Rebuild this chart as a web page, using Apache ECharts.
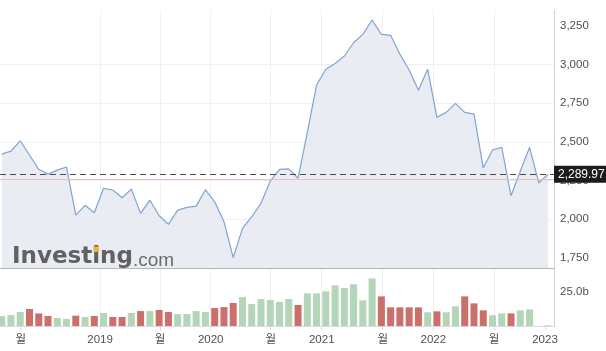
<!DOCTYPE html>
<html>
<head>
<meta charset="utf-8">
<script src="https://cdn.jsdelivr.net/npm/echarts@6/dist/echarts.min.js"></script>
<style>
html, body { margin: 0; padding: 0; background: #fff; }
#chart { width: 606px; height: 351px; }
</style>
</head>
<body>
<div id="chart"></div>
<script>
// monthly closes, one point per month (first point ~ Feb 2018)
const closes = [
  2421, 2440, 2507, 2415, 2322, 2291, 2317, 2337, 2026, 2089,
  2041, 2199, 2188, 2138, 2194, 2037, 2123, 2021, 1966, 2058,
  2076, 2084, 2190, 2112, 1983, 1750, 1940, 2015, 2102, 2246,
  2322, 2325, 2264, 2560, 2868, 2970, 3008, 3056, 3142, 3196,
  3289, 3196, 3190, 3067, 2965, 2835, 2970, 2659, 2691, 2749,
  2691, 2680, 2332, 2447, 2464, 2151, 2310, 2464, 2235, 2289.97
]
// monthly volume, billions
const volumes = [
  7.3, 8.0, 10.2, 12.4, 9.2, 7.3, 5.8, 5.1, 7.5, 6.6,
  7.3, 9.5, 6.6, 6.6, 9.5, 10.9, 10.9, 11.7, 10.2, 8.7,
  8.7, 10.9, 10.2, 13.1, 13.8, 16.8, 21.1, 16.0, 19.7, 19.0,
  17.5, 19.7, 15.3, 23.8, 23.8, 25.3, 29.6, 27.7, 30.4, 18.7,
  34.7, 21.6, 13.6, 13.6, 13.6, 13.6, 10.0, 10.7, 10.0, 14.3,
  21.6, 16.5, 11.4, 7.8, 9.2, 9.2, 11.4, 12.1, 0, 0.5
]
// x tick positions in month-index units, and their labels
const xTickPos = [2.05, 10.62, 17.1, 22.57, 29.05, 34.56, 41.14, 46.61, 53.17, 58.67]
const xTickLabels = ['월', '2019', '월', '2020', '월', '2021', '월', '2022', '월', '2023']
const priceTicks = [1750, 2000, 2250, 2500, 2750, 3000, 3250]
const volumeTicks = [25]
const lastPrice = 2289.97
const prevClose = 2258

const FONT = "'Liberation Sans', 'Noto Sans CJK KR', sans-serif"
const UP = '#b4d5b8'
const DOWN = '#cb6f6b'
const GRID_COLOR = '#eef0f3'
const X_MIN = -0.184
const X_MAX = 59.64

const chart = echarts.init(document.getElementById('chart'))

const xLabel = (v) => {
  const k = xTickPos.findIndex(p => Math.abs(p - v) < 1e-6)
  return k >= 0 ? xTickLabels[k] : ''
}

const splitLine = { show: true, showMinLine: false, showMaxLine: false, lineStyle: { color: GRID_COLOR } }

const option = {
  animation: false,
  grid: [
    { left: 0, right: 52, top: 10, height: 258 },
    { left: 0, right: 52, top: 268, height: 58 },
  ],
  xAxis: [
    {
      type: 'value', gridIndex: 0, min: X_MIN, max: X_MAX,
      axisLine: { show: true, onZero: false, lineStyle: { color: '#b4b4b4' } },
      axisTick: { show: false, customValues: xTickPos },
      axisLabel: { show: false },
      splitLine,
    },
    {
      type: 'value', gridIndex: 1, min: X_MIN, max: X_MAX,
      axisLine: { show: true, onZero: false, lineStyle: { color: '#d8dbe0' } },
      axisTick: { show: true, length: 4, customValues: xTickPos, lineStyle: { color: '#d8dbe0' } },
      axisLabel: {
        customValues: xTickPos, formatter: xLabel, margin: 8,
        color: '#505050', fontSize: 11.5, fontFamily: FONT,
      },
      splitLine,
    },
  ],
  yAxis: [
    {
      type: 'value', gridIndex: 0, position: 'right', min: 1683, max: 3354,
      axisLine: { show: true, onZero: false, lineStyle: { color: '#cfd3da' } },
      axisTick: { show: false, customValues: priceTicks },
      axisLabel: {
        customValues: priceTicks, margin: 6,
        formatter: v => v.toLocaleString('en-US'),
        color: '#505050', fontSize: 11.5, fontFamily: FONT,
      },
      splitLine,
    },
    {
      type: 'value', gridIndex: 1, position: 'right', min: 0, max: 42.3,
      axisLine: { show: true, onZero: false, lineStyle: { color: '#cfd3da' } },
      axisTick: { show: false, customValues: volumeTicks },
      axisLabel: {
        customValues: volumeTicks, margin: 6,
        formatter: v => v.toFixed(1) + 'b',
        color: '#505050', fontSize: 11.5, fontFamily: FONT,
      },
      splitLine: { show: false },
    },
  ],
  graphic: [
    {
      type: 'text', z: 100, left: 12, top: 246,
      style: { text: 'Investing', font: "bold 23px 'DejaVu Sans'", fill: 'rgba(85,85,85,0.92)' },
    },
    {
      type: 'rect', z: 101, left: 93.5, top: 246.5,
      shape: { width: 5.5, height: 5.5 },
      style: { fill: '#f0b23e' },
    },
    {
      type: 'text', z: 100, left: 133, top: 251,
      style: { text: '.com', font: "19px 'Liberation Sans'", fill: 'rgba(95,95,95,0.92)' },
    },
  ],
  series: [
    {
      type: 'line', xAxisIndex: 0, yAxisIndex: 0,
      data: closes.map((v, i) => [i, v]),
      symbol: 'none',
      lineStyle: { color: '#7fa4d4', width: 1.2 },
      areaStyle: { color: '#e9edf3', origin: 'start', opacity: 1 },
      markLine: {
        symbol: 'none', silent: true, animation: false,
        data: [
          {
            yAxis: prevClose,
            lineStyle: { color: '#f4b9b9', type: 'solid', width: 1 },
            label: { show: false },
          },
          {
            yAxis: lastPrice,
            lineStyle: { color: '#4a4a4a', type: [6, 4], width: 1.2 },
            label: {
              show: true, position: 'end', distance: 0,
              formatter: lastPrice.toLocaleString('en-US', { minimumFractionDigits: 2 }),
              backgroundColor: '#1c1c1c', color: '#fff',
              fontSize: 12, fontFamily: FONT, padding: [3, 3, 2, 4],
            },
          },
        ],
      },
    },
    {
      type: 'bar', xAxisIndex: 1, yAxisIndex: 1,
      data: volumes.map((v, i) => [i, v]),
      barWidth: 7,
      itemStyle: {
        color: p => (p.dataIndex === 0 || closes[p.dataIndex] >= closes[p.dataIndex - 1]) ? UP : DOWN,
      },
    },
  ],
}

chart.setOption(option)
</script>
</body>
</html>
